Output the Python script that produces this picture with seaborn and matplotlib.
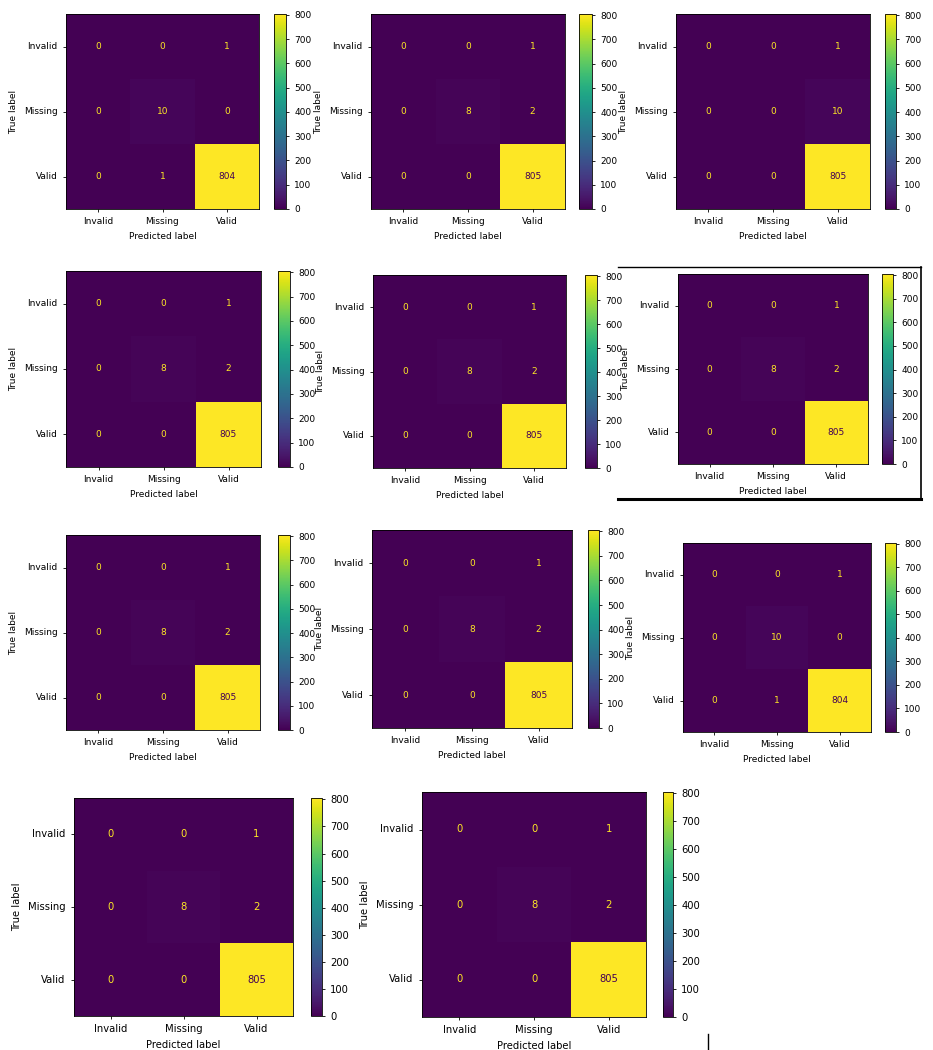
import numpy as np
import matplotlib.pyplot as plt
import seaborn as sns

# Class labels shared by every confusion matrix
classes = ['Invalid', 'Missing', 'Valid']

# Confusion matrices (rows = true, cols = predicted)
cm_missing_ok = [[0, 0, 1], [0, 10, 0], [0, 1, 804]]
cm_typical = [[0, 0, 1], [0, 8, 2], [0, 0, 805]]
cm_missing_bad = [[0, 0, 1], [0, 0, 10], [0, 0, 805]]

panel_matrices = [cm_missing_ok, cm_typical, cm_missing_bad,
                  cm_typical, cm_typical, cm_typical,
                  cm_typical, cm_typical, cm_missing_ok,
                  cm_typical, cm_typical]

cbar_ticks = [0, 100, 200, 300, 400, 500, 600, 700, 800]

W, H = 933, 1050

# pixel boxes: (left, top, right, bottom, cbar_left, cbar_right, fontsize)
boxes = [
    (66, 14, 259, 209, 274, 286, 6.5),
    (371, 14, 565, 209, 579, 592, 6.5),
    (676, 14, 870, 209, 885, 896, 6.5),
    (66, 271, 261, 467, 278, 290, 6.5),
    (373, 275, 566, 468, 585, 597, 6.5),
    (678, 274, 868, 464, 882, 893, 6.5),
    (66, 535, 260, 730, 278, 290, 6.5),
    (372, 530, 572, 728, 588, 599, 6.5),
    (683, 543, 871, 732, 885, 896, 6.5),
    (74, 798, 293, 1016, 311, 322, 7.2),
    (422, 792, 646, 1017, 663, 673, 7.2),
]

fig = plt.figure(figsize=(W / 100, H / 100), dpi=100)


def to_fig(l, t, r, b):
    return [l / W, 1 - b / H, (r - l) / W, (b - t) / H]


for cm, (l, t, r, b, cl, cr, fs) in zip(panel_matrices, boxes):
    cm = np.array(cm)
    ax = fig.add_axes(to_fig(l, t, r, b))
    cax = fig.add_axes(to_fig(cl, t, cr, b))
    sns.heatmap(cm, ax=ax, cbar_ax=cax, cmap='viridis', vmin=0, vmax=cm.max(),
                annot=True, fmt='d', annot_kws={'fontsize': fs},
                xticklabels=classes, yticklabels=classes, square=False)
    # sklearn-style text colours: yellow on dark cells, purple on bright
    for txt, val in zip(ax.texts, cm.flatten()):
        txt.set_color('#440154' if val > cm.max() / 2 else '#fde725')
    for sp in ax.spines.values():
        sp.set_visible(True)
        sp.set_linewidth(0.6)
    ax.tick_params(labelsize=fs, length=2.5, width=0.6)
    ax.set_yticklabels(classes, rotation=0)
    ax.set_xticklabels(classes, rotation=0)
    ax.set_xlabel('Predicted label', fontsize=fs)
    ax.set_ylabel('True label', fontsize=fs)
    cbar = ax.collections[0].colorbar
    cbar.set_ticks(cbar_ticks)
    cbar.ax.tick_params(labelsize=fs, length=2.5, width=0.6)
    cbar.outline.set_visible(True)
    cbar.outline.set_linewidth(0.6)

# frame around the sixth screenshot
fx = lambda x: x / W
fy = lambda y: 1 - y / H
fig.add_artist(plt.Line2D([fx(618), fx(921)], [fy(267), fy(267)], color='black', lw=1.0))
fig.add_artist(plt.Line2D([fx(921), fx(921)], [fy(267), fy(499)], color='black', lw=1.2))
fig.add_artist(plt.Line2D([fx(618), fx(921)], [fy(499), fy(499)], color='black', lw=2.2))
# stray cursor mark near the bottom
fig.add_artist(plt.Line2D([fx(708), fx(708)], [fy(1034), fy(1050)], color='black', lw=1.0))

fig.savefig('out.png', dpi=100)
